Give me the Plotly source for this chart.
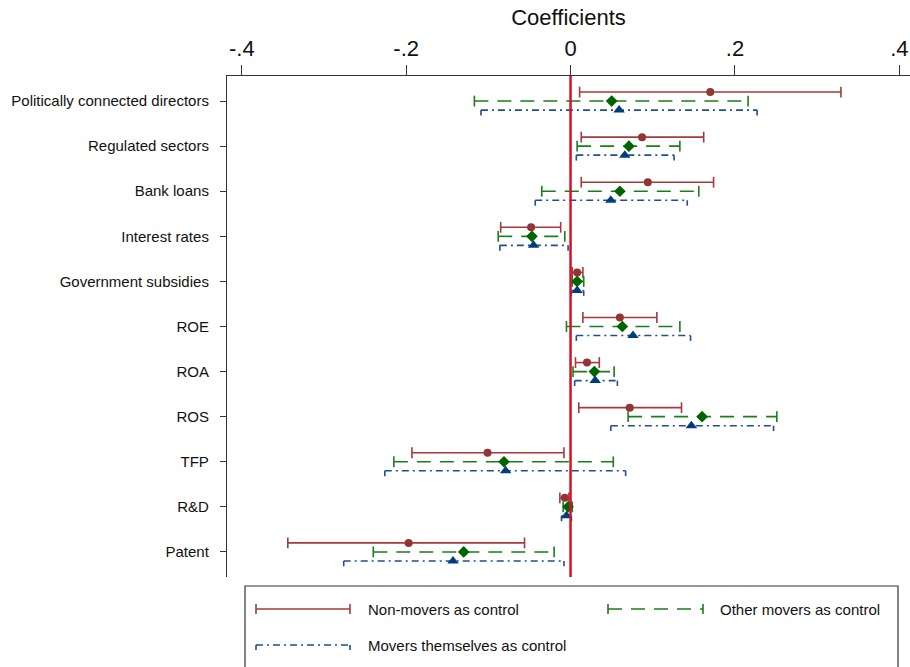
import plotly.graph_objects as go

categories = ["Politically connected directors", "Regulated sectors", "Bank loans",
              "Interest rates", "Government subsidies", "ROE", "ROA", "ROS",
              "TFP", "R&D", "Patent"]

# Non-movers as control
nm_pt = [0.170, 0.087, 0.094, -0.048, 0.008, 0.060, 0.020, 0.072, -0.101, -0.007, -0.197]
nm_lo = [0.011, 0.013, 0.013, -0.085, 0.002, 0.015, 0.006, 0.010, -0.193, -0.013, -0.344]
nm_hi = [0.329, 0.162, 0.174, -0.012, 0.015, 0.105, 0.035, 0.135, -0.008, -0.002, -0.056]

# Other movers as control
om_pt = [0.050, 0.071, 0.060, -0.047, 0.008, 0.063, 0.029, 0.160, -0.081, -0.003, -0.130]
om_lo = [-0.117, 0.008, -0.035, -0.088, 0.002, -0.005, 0.003, 0.070, -0.215, -0.009, -0.240]
om_hi = [0.216, 0.133, 0.156, -0.007, 0.016, 0.133, 0.053, 0.251, 0.052, 0.002, -0.020]

# Movers themselves as control
mt_pt = [0.059, 0.066, 0.049, -0.045, 0.008, 0.076, 0.030, 0.147, -0.079, -0.005, -0.143]
mt_lo = [-0.109, 0.007, -0.043, -0.086, 0.001, 0.007, 0.005, 0.049, -0.226, -0.011, -0.276]
mt_hi = [0.227, 0.126, 0.142, -0.003, 0.016, 0.146, 0.057, 0.247, 0.067, 0.001, -0.008]

tick_vals = [-0.4, -0.2, 0, 0.2, 0.4]
tick_text = ["-.4", "-.2", "0", ".2", ".4"]

series = [
    dict(name="Non-movers as control", pt=nm_pt, lo=nm_lo, hi=nm_hi, off=-0.2,
         lc="#a63a3c", mc="#943434", dash="solid", sym="circle", msize=8, cap="both"),
    dict(name="Other movers as control", pt=om_pt, lo=om_lo, hi=om_hi, off=0.0,
         lc="#1b7d1b", mc="#006400", dash="14px,9px", sym="diamond", msize=9, cap="both"),
    dict(name="Movers themselves as control", pt=mt_pt, lo=mt_lo, hi=mt_hi, off=0.2,
         lc="#204f8c", mc="#003d7a", dash="7px,4px,2px,4px", sym="triangle-up", msize=10, cap="down"),
]

CAP = 0.12
fig = go.Figure()

for s in series:
    ys = [i + s["off"] for i in range(len(categories))]
    lx, ly, cx, cy = [], [], [], []
    for y, lo, hi in zip(ys, s["lo"], s["hi"]):
        lx += [lo, hi, None]
        ly += [y, y, None]
        if s["cap"] == "both":
            y0, y1 = y - CAP, y + CAP
        else:
            y0, y1 = y, y + CAP
        cx += [lo, lo, None, hi, hi, None]
        cy += [y0, y1, None, y0, y1, None]
    fig.add_trace(go.Scatter(x=lx, y=ly, mode="lines", showlegend=False, hoverinfo="skip",
                             line=dict(color=s["lc"], width=1.6, dash=s["dash"])))
    fig.add_trace(go.Scatter(x=cx, y=cy, mode="lines", showlegend=False, hoverinfo="skip",
                             line=dict(color=s["lc"], width=1.6)))
    fig.add_trace(go.Scatter(x=s["pt"], y=ys, mode="markers", showlegend=False,
                             marker=dict(symbol=s["sym"], size=s["msize"], color=s["mc"],
                                         line=dict(width=0))))

# zero reference line
fig.add_shape(type="line", xref="x", yref="paper", x0=0, x1=0, y0=0, y1=1,
              line=dict(color="#d0142c", width=2.5), layer="above")

fig.update_xaxes(range=[-0.418, 0.413], side="top", tickvals=tick_vals, ticktext=tick_text,
                 ticks="outside", ticklen=10, tickcolor="#333", showline=True,
                 linecolor="#333", linewidth=1.2, showgrid=False, zeroline=False, mirror=False,
                 tickfont=dict(size=22, color="#111"),
                 title=dict(text="Coefficients", font=dict(size=22, color="#111"), standoff=4))
fig.update_yaxes(range=[10.556, -0.556], tickvals=list(range(len(categories))),
                 ticktext=categories, ticks="outside", ticklen=6, tickcolor="#333",
                 showline=True, linecolor="#333", linewidth=1.2, showgrid=False,
                 zeroline=False, tickfont=dict(size=15, color="#111"), ticklabelstandoff=8)

# legend box drawn manually in pixel-derived paper coords
W, H = 910, 667
L, R, T, B = 227, 0, 76, 90
pw, ph = W - L - R, H - T - B
def px(x):
    return (x - L) / pw
def py(y):
    return (H - B - y) / ph

fig.add_shape(type="rect", xref="paper", yref="paper", x0=px(245), x1=px(898),
              y0=py(700), y1=py(586), line=dict(color="#333", width=1.2), fillcolor="white")

leg_items = [
    (series[0], 256, 350, 609, 366),
    (series[1], 608, 703, 609, 718),
    (series[2], 256, 350, 645, 366),
]
for s, x0, x1, y, tx in leg_items:
    fig.add_shape(type="line", xref="paper", yref="paper", x0=px(x0), x1=px(x1),
                  y0=py(y), y1=py(y), line=dict(color=s["lc"], width=1.6, dash=s["dash"]))
    if s["cap"] == "both":
        ya, yb = y - 5, y + 5
    else:
        ya, yb = y, y + 5
    for xx in (x0, x1):
        fig.add_shape(type="line", xref="paper", yref="paper", x0=px(xx), x1=px(xx),
                      y0=py(ya), y1=py(yb), line=dict(color=s["lc"], width=1.6))
    fig.add_annotation(xref="paper", yref="paper", x=px(tx), y=py(y), text=s["name"],
                       showarrow=False, xanchor="left", yanchor="middle",
                       font=dict(size=15, color="#111"))

fig.update_layout(width=W, height=H, margin=dict(l=L, r=R, t=T, b=B),
                  plot_bgcolor="white", paper_bgcolor="white",
                  font=dict(family="Liberation Sans, Arial, sans-serif"),
                  showlegend=False)

fig.write_html("out.html")
